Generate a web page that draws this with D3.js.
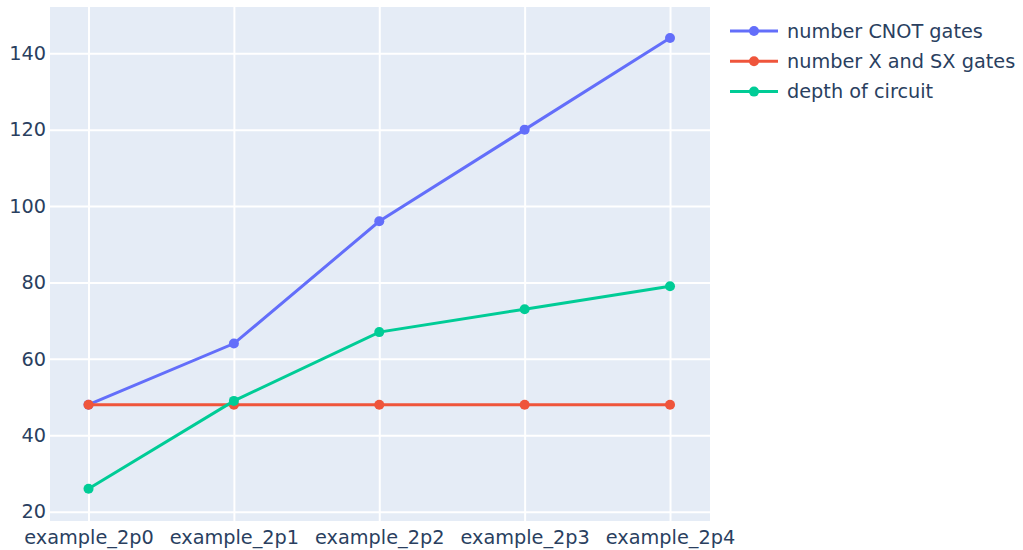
<!DOCTYPE html>
<html><head><meta charset="utf-8">
<script src="https://cdn.jsdelivr.net/npm/d3@7"></script>
<style>body{margin:0;background:#fff;} text{font-family:"DejaVu Sans",Verdana,sans-serif;fill:#2a3f5f;}</style>
</head><body>
<svg id="c" width="1023" height="550"></svg>
<script>
const categories = ["example_2p0","example_2p1","example_2p2","example_2p3","example_2p4"];
const cnotValues = [48, 64, 96, 120, 144];
const xsxValues = [48, 48, 48, 48, 48];
const depthValues = [26, 49, 67, 73, 79];
const seriesNames = ["number CNOT gates","number X and SX gates","depth of circuit"];
const seriesColors = ["#636efa","#EF553B","#00cc96"];
const yTicks = [20,40,60,80,100,120,140];

const svg = d3.select("#c");
const L=50, R=710, T=7, B=521;
const fs = 19.3;
const ff = "DejaVu Sans";
const x = d3.scaleLinear().domain([-0.265, 4.275]).range([L, R]);
const y = d3.scaleLinear().domain([17.56, 152.1]).range([B, T]);

svg.append("rect").attr("x",L).attr("y",T).attr("width",R-L).attr("height",B-T).attr("fill","#e5ecf6");

const gx = svg.append("g").attr("transform",`translate(0,${B})`)
  .call(d3.axisBottom(x).tickValues(d3.range(categories.length)).tickSize(-(B-T)).tickFormat(i=>categories[i]).tickPadding(9));
gx.select(".domain").remove();
gx.selectAll("line").attr("stroke","#fff").attr("stroke-width",2);
gx.selectAll("text").attr("font-size",fs).attr("fill","#2a3f5f").attr("font-family",ff);

const gy = svg.append("g").attr("transform",`translate(${L},0)`)
  .call(d3.axisLeft(y).tickValues(yTicks).tickSize(-(R-L)).tickPadding(4));
gy.select(".domain").remove();
gy.selectAll("line").attr("stroke","#fff").attr("stroke-width",2);
gy.selectAll("text").attr("font-size",fs).attr("fill","#2a3f5f").attr("font-family",ff);

const allSeries = [cnotValues, xsxValues, depthValues];
const line = d3.line().x((d,i)=>x(i)).y(d=>y(d));
allSeries.forEach((vals,k)=>{
  const g = svg.append("g");
  g.append("path").datum(vals).attr("d",line).attr("fill","none").attr("stroke",seriesColors[k]).attr("stroke-width",3);
  g.selectAll("circle").data(vals).join("circle").attr("cx",(d,i)=>x(i)).attr("cy",d=>y(d)).attr("r",5).attr("fill",seriesColors[k]);
});

const leg = svg.append("g");
seriesNames.forEach((n,k)=>{
  const yy = 31 + k*30.3;
  leg.append("line").attr("x1",730).attr("x2",778).attr("y1",yy).attr("y2",yy).attr("stroke",seriesColors[k]).attr("stroke-width",3);
  leg.append("circle").attr("cx",754).attr("cy",yy).attr("r",5).attr("fill",seriesColors[k]);
  leg.append("text").attr("x",787).attr("y",yy).attr("dy","0.35em").attr("font-size",fs).attr("font-family",ff).text(n);
});
</script>
</body></html>
